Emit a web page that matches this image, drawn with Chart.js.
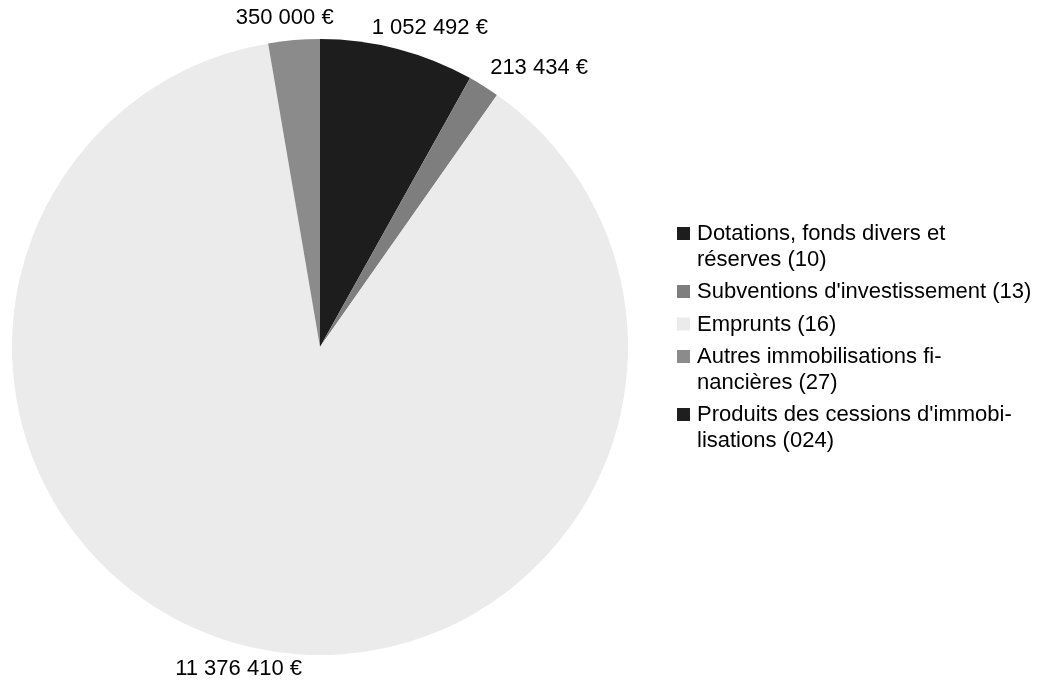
<!DOCTYPE html>
<html>
  <head>
    <title>Recettes d'investissement</title>
    <script src="https://cdn.jsdelivr.net/npm/chart.js"></script>
    <style>
      html, body { margin: 0; padding: 0; background: #fff; }
      #wrap { width: 1039px; height: 683px; position: relative; }
    </style>
  </head>
  <body>
    <div id="wrap"><canvas id="pieChart"></canvas></div>

    <script>
      // categories (legend lines already split like the original)
      const categories = [
        ["Dotations, fonds divers et", "réserves (10)"],
        ["Subventions d'investissement (13)"],
        ["Emprunts (16)"],
        ["Autres immobilisations fi-", "nancières (27)"],
        ["Produits des cessions d'immobi-", "lisations (024)"],
      ];
      const amounts = [1052492, 213434, 11376410, 350000, 0];
      const colors = ["#1d1d1d", "#7e7e7e", "#ebebeb", "#8b8b8b", "#1f1f1f"];

      const FONT = "22px 'Liberation Sans', Arial, sans-serif";

      function euro(v) {
        return v.toString().replace(/\B(?=(\d{3})+(?!\d))/g, " ") + " €";
      }

      // value labels outside the slices
      const outsideLabels = {
        id: "outsideLabels",
        afterDatasetsDraw(chart) {
          const ctx = chart.ctx;
          const arcs = chart.getDatasetMeta(0).data;
          ctx.save();
          ctx.font = FONT;
          ctx.fillStyle = "#000";
          ctx.textBaseline = "middle";
          ctx.textAlign = "center";
          arcs.forEach((arc, i) => {
            if (!amounts[i]) return;
            const mid = (arc.startAngle + arc.endAngle) / 2;
            const r = arc.outerRadius + 12;
            const ax = arc.x + Math.cos(mid) * r;
            const ay = arc.y + Math.sin(mid) * r;
            const txt = euro(amounts[i]);
            const w = ctx.measureText(txt).width;
            // lower half labels stay closer to centred
            const f = Math.sin(mid) > 0 ? 0.8 : 2;
            const k = Math.max(-1, Math.min(1, Math.cos(mid) * f));
            ctx.fillText(txt, ax + k * w / 2, ay + Math.sin(mid) * 10);
          });
          ctx.restore();
        },
      };

      // legend on the right, with wrapped lines
      const sideLegend = {
        id: "sideLegend",
        afterDraw(chart) {
          const ctx = chart.ctx;
          ctx.save();
          ctx.font = FONT;
          ctx.textBaseline = "middle";
          ctx.textAlign = "left";
          let y = 234;
          categories.forEach((lines, i) => {
            ctx.fillStyle = colors[i];
            ctx.fillRect(677, y - 7, 13, 13);
            ctx.fillStyle = "#000";
            lines.forEach((line, j) => {
              ctx.fillText(line, 697, y + j * 25.5);
            });
            y += lines.length * 25.5 + 7;
          });
          ctx.restore();
        },
      };

      new Chart(document.getElementById("pieChart"), {
        type: "pie",
        data: {
          labels: categories.map((l) => l.join(" ")),
          datasets: [
            {
              data: amounts,
              backgroundColor: colors,
              borderWidth: 0,
            },
          ],
        },
        options: {
          responsive: true,
          maintainAspectRatio: false,
          animation: false,
          layout: { padding: { top: 39, bottom: 28, left: 12, right: 411 } },
          plugins: {
            legend: { display: false },
            tooltip: { enabled: false },
          },
        },
        plugins: [outsideLabels, sideLegend],
      });
    </script>
  </body>
</html>
